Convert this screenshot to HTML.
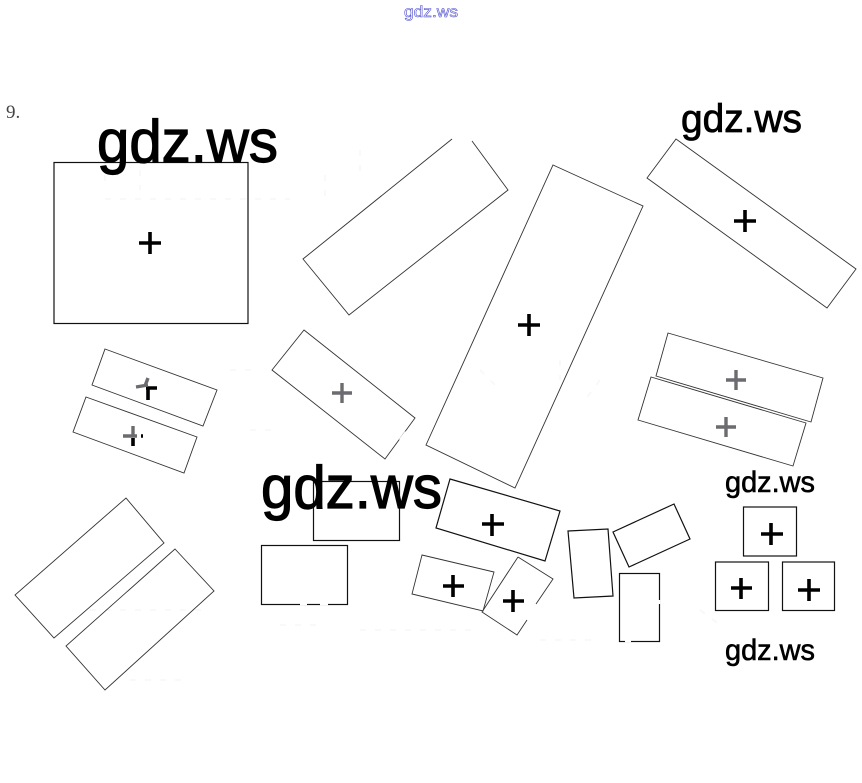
<!DOCTYPE html>
<html>
<head>
<meta charset="utf-8">
<style>
html,body{margin:0;padding:0;background:#fff;width:862px;height:783px;overflow:hidden}
svg{display:block}
text{font-family:"Liberation Sans",sans-serif}
.s{fill:none;stroke:#333;stroke-width:.9}
.h{fill:none;stroke:#111;stroke-width:1.2}
.p{stroke:#000;stroke-width:3.6;fill:none}
.q{stroke:#6b6b70;stroke-width:3.4;fill:none}
.w{stroke:#fff;stroke-width:2.5;fill:none}
</style>
</head>
<body>
<svg width="862" height="783" viewBox="0 0 862 783" xmlns="http://www.w3.org/2000/svg">
<rect width="862" height="783" fill="#fff"/>

<!-- very faint background smudges -->
<g stroke="#f7f7f7" stroke-width="1.5" fill="none" stroke-dasharray="6 9">
<path d="M105 199H290M360 150v25M105 160v25M140 170v20M325 175v25"/>
<path d="M230 370h30M250 430h30M480 370l20 20M560 360v20M600 380l-15 20"/>
<path d="M90 610h120M130 680h60M280 625h40M360 630h120M540 640h60M700 610l20 15"/>
</g>

<!-- rectangles -->
<rect class="h" x="54" y="162.5" width="194" height="161"/>
<polyline class="s" points="452,139 303,259 349,315 508,190 472,141"/>
<polygon class="s" points="553,165 643,206 515,488 426,445"/>
<polygon class="s" points="676,139 856,269 827,308 647,178"/>
<polygon class="s" points="105,349 217,390 203,426 92,385"/>
<polygon class="s" points="86,397 197,437 184,473 73,432"/>
<polygon class="s" points="304,330 415,418 385,459 272,370"/>
<polygon class="s" points="668,333 823,378 811,422 656,376"/>
<polygon class="s" points="651,377 806,423 793,466 638,420"/>
<rect class="h" x="743.5" y="507" width="53" height="49"/>
<rect class="h" x="715.5" y="562" width="53" height="48.5"/>
<rect class="h" x="782.5" y="562" width="52" height="48.5"/>
<polygon class="h" points="450,479 560,511 545,561 436,528"/>
<polygon class="s" points="422,555 494,572 483,611 412,594"/>
<polyline class="s" points="518,557 553,579 536,604"/>
<polyline class="s" points="527,620 517,635 482,612 518,557"/>
<polygon class="h" points="568,531 608,529 613,596 574,598"/>
<polygon class="h" points="613,532 674,504 690,539 629,567"/>
<rect class="h" x="619.5" y="573.5" width="40" height="68"/>
<rect class="h" x="313.5" y="481.5" width="86" height="59"/>
<rect class="h" x="261.5" y="545.5" width="86" height="59"/>
<polygon class="s" points="126,498 164,543 54,638 15,595"/>
<polygon class="s" points="175,549 214,591 105,690 66,646"/>

<!-- small breaks in the scanned outlines -->
<path class="w" d="M382 207l5 -4M104 606l12 -10M92 648l6 5M300 604h7M320 604h8M400 440l6 -8M340 452l6 5M694 393l8 2M760 442l8 2M625 641h6M659 600v4"/>

<!-- plus signs -->
<path class="p" d="M139 243h22M150 232v22"/>
<path class="p" d="M734 221h22M745 210v22"/>
<path class="p" d="M518 325h22M529 314v22"/>
<path class="q" d="M726 380h20M736 370v20"/>
<path class="q" d="M716 427h20M726 417v20"/>
<path class="q" d="M332 393h20M342 383v20"/>
<path class="p" d="M146 388h11M148 388v12"/>
<path class="q" d="M136 387l12 -2M148 378l-3 8"/>
<path class="q" d="M123 436h14M133 426v10"/>
<path class="p" d="M133 438v8M141 436h2"/>
<path class="p" d="M482 524h22M492 514v22"/>
<path class="p" d="M443 586h21M453 575v22"/>
<path class="p" d="M503 601h21M513 590v22"/>
<path class="p" d="M761 534h22M771 523v22"/>
<path class="p" d="M731 588h21M741 578v21"/>
<path class="p" d="M798 590h22M809 579v22"/>

<!-- labels -->
<text x="404" y="17" font-size="16" fill="#fff" stroke="#4a4ad0" stroke-width=".55" textLength="54" lengthAdjust="spacingAndGlyphs">gdz.ws</text>
<text x="6" y="118" font-size="19" fill="#444" style="font-family:'Liberation Serif',serif">9.</text>
<text x="97" y="162" font-size="60" fill="#000" stroke="#000" stroke-width="1.2" textLength="181" lengthAdjust="spacingAndGlyphs">gdz.ws</text>
<text x="261" y="508" font-size="60" fill="#000" stroke="#000" stroke-width="1.2" textLength="181" lengthAdjust="spacingAndGlyphs">gdz.ws</text>
<text x="681" y="132" font-size="40" fill="#000" stroke="#000" stroke-width=".8" textLength="121" lengthAdjust="spacingAndGlyphs">gdz.ws</text>
<text x="725" y="492" font-size="30" fill="#000" stroke="#000" stroke-width=".6" textLength="90" lengthAdjust="spacingAndGlyphs">gdz.ws</text>
<text x="725" y="660" font-size="30" fill="#000" stroke="#000" stroke-width=".6" textLength="90" lengthAdjust="spacingAndGlyphs">gdz.ws</text>
</svg>
</body>
</html>
